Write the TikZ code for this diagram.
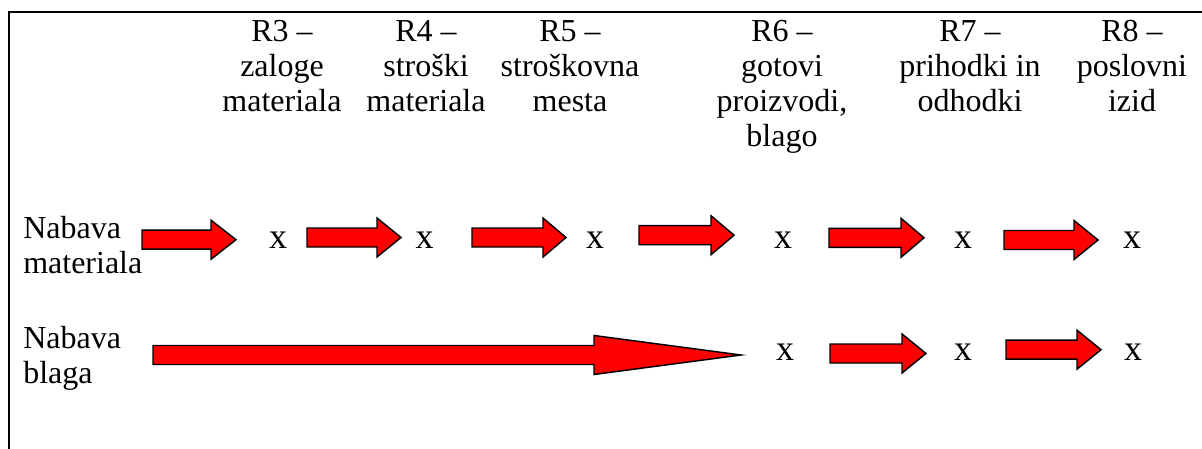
\documentclass[tikz,border=0pt]{standalone}
\usepackage{fontspec}
\setmainfont{Liberation Serif}
\begin{document}
\begin{tikzpicture}[x=0.75pt,y=-0.75pt,
  frameline/.style={line width=1.9pt, black, line cap=rect},
  blockarrow/.style={fill=red, draw=black, line width=1.1pt, line join=miter},
  lbl/.style={inner sep=0pt, font=\fontsize{24}{26.3}\selectfont},
  hdr/.style={lbl, align=center, anchor=north},
  rowlbl/.style={lbl, align=left, anchor=north west},
  xmark/.style={inner sep=0pt, anchor=base, font=\fontsize{27}{30}\selectfont}]

% block arrow: start x, head base x, tip x, centre y
\newcommand\blockarrow[4]{%
  \draw[blockarrow] (#1,#4-9.5) -- (#2,#4-9.5) -- (#2,#4-19.5) -- (#3,#4)
    -- (#2,#4+19.5) -- (#2,#4+9.5) -- (#1,#4+9.5) -- cycle;}

\useasboundingbox (0,0) rectangle (1202,449);

% frame lines
\draw[frameline] (9,449) -- (9,12) -- (1202,12);

% column headers
\node[hdr] (r3) at (282,20) {R3 –\\zaloge\\materiala};
\node[hdr] (r4) at (426,20) {R4 –\\stroški\\materiala};
\node[hdr] (r5) at (570,20) {R5 –\\stroškovna\\mesta};
\node[hdr] (r6) at (782,20) {R6 –\\gotovi\\proizvodi,\\blago};
\node[hdr] (r7) at (970,20) {R7 –\\prihodki in\\odhodki};
\node[hdr] (r8) at (1132,20) {R8 –\\poslovni\\izid};

% row labels
\node[rowlbl] (mat) at (23,216) {Nabava\\materiala};
\node[rowlbl] (bla) at (23,326) {Nabava\\blaga};

% material row
\node[xmark] (m3) at (278,248) {x};
\node[xmark] (m4) at (424.5,248) {x};
\node[xmark] (m5) at (595,248) {x};
\node[xmark] (m6) at (783,248) {x};
\node[xmark] (m7) at (963,248) {x};
\node[xmark] (m8) at (1132,248) {x};

\blockarrow{142}{211}{236}{239.7}
\blockarrow{307}{377}{401}{237.5}
\blockarrow{472}{543}{566}{237.5}
\blockarrow{639}{711}{734}{235.2}
\blockarrow{829}{901}{924}{237.8}
\blockarrow{1004}{1074}{1098}{240}

% goods row
\node[xmark] (b6) at (785,360) {x};
\node[xmark] (b7) at (963,360) {x};
\node[xmark] (b8) at (1133,360) {x};

\blockarrow{153}{594}{741}{355}
\blockarrow{830}{902}{926}{353.5}
\blockarrow{1006}{1077}{1101}{349.7}

\end{tikzpicture}
\end{document}
